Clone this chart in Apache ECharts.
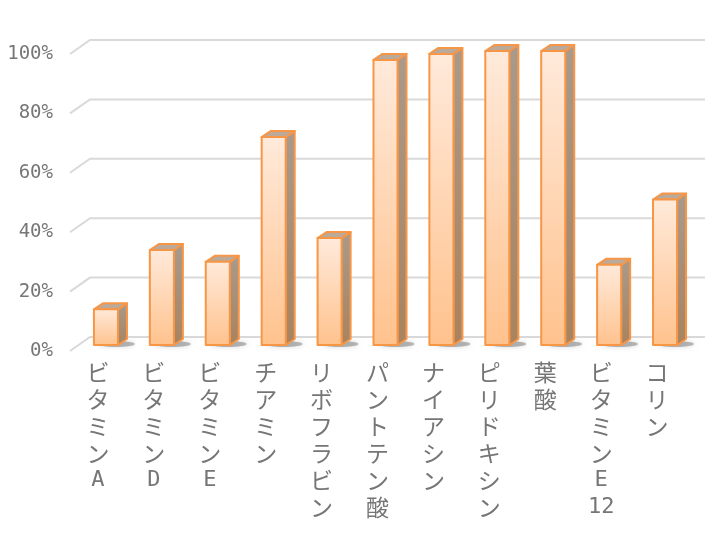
<!DOCTYPE html>
<html>
<head>
<meta charset="utf-8">
<script src="https://cdn.jsdelivr.net/npm/echarts@6/dist/echarts.min.js"></script>
<style>
html,body{margin:0;padding:0;background:#fff;}
#chart{width:728px;height:541px;}
</style>
</head>
<body>
<div id="chart"></div>
<script>
const categories = ['ビタミンA','ビタミンD','ビタミンE','チアミン','リボフラビン','パントテン酸','ナイアシン','ピリドキシン','葉酸','ビタミンE12','コリン'];
const values = [12, 32, 28, 70, 36, 96, 98, 99, 99, 27, 49];
const yTicks = [0, 20, 40, 60, 80, 100];

const WALL_DX = 20, WALL_DY = 14;
const BAR_OFF_X = 8, BAR_OFF_Y = 6;
const SIDE_DX = 9, SIDE_DY = 6;
const ORANGE = '#F79646';

const chart = echarts.init(document.getElementById('chart'), null, {renderer: 'canvas'});

function wallItem(params, api) {
  const cs = params.coordSys;
  const v = api.value(0);
  const y = api.coord([0, v])[1];
  return {
    type: 'polyline',
    shape: {points: [[cs.x, y], [cs.x + WALL_DX, y - WALL_DY], [cs.x + cs.width + WALL_DX, y - WALL_DY]]},
    style: {stroke: '#D9D9D9', lineWidth: 2, fill: null},
    silent: true
  };
}

function barItem(params, api) {
  const i = api.value(0);
  const v = api.value(1);
  const base = api.coord([i, 0]);
  const top = api.coord([i, v]);
  const bw = api.size([1, 0])[0] * 0.43;
  const cx = base[0] + BAR_OFF_X;
  const x0 = cx - bw / 2;
  const x1 = x0 + bw;
  const yb = base[1] - BAR_OFF_Y;
  const yt = top[1] - BAR_OFF_Y;
  return {
    type: 'group',
    children: [
      {
        type: 'ellipse',
        shape: {cx: x0 + bw / 2 + 10, cy: yb - 1, rx: 19, ry: 3},
        style: {fill: 'rgba(70,70,70,0.35)', shadowBlur: 5, shadowColor: 'rgba(0,0,0,0.4)'},
        silent: true
      },
      {
        type: 'polygon',
        shape: {points: [[x1, yt], [x1 + SIDE_DX, yt - SIDE_DY], [x1 + SIDE_DX, yb - SIDE_DY], [x1, yb]]},
        style: {
          fill: {type: 'linear', x: 0, y: 0, x2: 0, y2: 1, colorStops: [
            {offset: 0, color: '#A89A8D'}, {offset: 1, color: '#A8835F'}]},
          stroke: ORANGE, lineWidth: 2, lineJoin: 'round'
        }
      },
      {
        type: 'polygon',
        shape: {points: [[x0, yt], [x0 + SIDE_DX, yt - SIDE_DY], [x1 + SIDE_DX, yt - SIDE_DY], [x1, yt]]},
        style: {fill: '#BBAA99', stroke: ORANGE, lineWidth: 2, lineJoin: 'round'}
      },
      {
        type: 'rect',
        shape: {x: x0, y: yt, width: bw, height: yb - yt},
        style: {
          fill: {type: 'linear', x: 0, y: 0, x2: 0, y2: 1, colorStops: [
            {offset: 0, color: '#FFEADB'}, {offset: 1, color: '#FFC28D'}]},
          stroke: ORANGE, lineWidth: 2, lineJoin: 'round'
        }
      }
    ]
  };
}

const option = {
  animation: false,
  backgroundColor: '#ffffff',
  grid: {left: 70, right: 43, top: 54, bottom: 190},
  xAxis: {
    type: 'category',
    data: categories,
    axisLine: {show: false},
    axisTick: {show: false},
    splitLine: {show: false},
    axisLabel: {
      interval: 0,
      margin: 8,
      color: '#767676',
      verticalAlign: 'top',
      formatter: function (name) {
        return name.match(/[0-9]+|./g).map(function (s) {
          return /^[0-9A-Za-z]+$/.test(s) ? '{l|' + s + '}' : '{j|' + s + '}';
        }).join('\n');
      },
      rich: {
        j: {fontSize: 23, lineHeight: 27, color: '#767676', fontFamily: '"Noto Sans CJK JP"'},
        l: {fontSize: 22, lineHeight: 27, color: '#767676', fontFamily: '"DejaVu Sans Mono"'}
      }
    }
  },
  yAxis: {
    type: 'value',
    min: 0, max: 100, interval: 20,
    axisLine: {show: false},
    axisTick: {show: false},
    splitLine: {show: false},
    axisLabel: {
      margin: 17,
      color: '#767676',
      fontSize: 19,
      fontFamily: '"DejaVu Sans Mono","Noto Sans CJK JP"',
      formatter: '{value}%'
    }
  },
  series: [
    {
      type: 'custom',
      renderItem: wallItem,
      data: yTicks.map(v => [v]),
      encode: {y: 0},
      silent: true,
      z: 1
    },
    {
      type: 'custom',
      renderItem: barItem,
      data: values.map((v, i) => [i, v]),
      encode: {x: 0, y: 1},
      z: 2
    }
  ]
};
chart.setOption(option);
</script>
</body>
</html>
